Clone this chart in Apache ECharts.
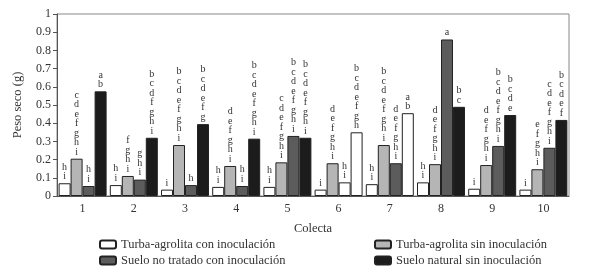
<!DOCTYPE html>
<html>
<head>
<meta charset="utf-8">
<script src="https://cdn.jsdelivr.net/npm/echarts@6/dist/echarts.min.js"></script>
<style>
  html, body { margin: 0; padding: 0; background: #fff; }
  #chart { width: 589px; height: 271px; }
</style>
</head>
<body>
<div id="chart"></div>
<script>
// colectas
const categories = ['1', '2', '3', '4', '5', '6', '7', '8', '9', '10']

// peso seco (g) por tratamiento
const turbaCon = [0.07, 0.06, 0.035, 0.05, 0.05, 0.035, 0.065, 0.075, 0.04, 0.035]
const turbaSin = [0.205, 0.11, 0.28, 0.165, 0.185, 0.18, 0.28, 0.175, 0.17, 0.147]
const sueloNoTratado = [0.055, 0.09, 0.06, 0.055, 0.33, 0.075, 0.18, 0.86, 0.275, 0.265]
const sueloNatural = [0.575, 0.32, 0.395, 0.315, 0.32, 0.35, 0.455, 0.49, 0.445, 0.418]

// letras de significancia
const letrasTurbaCon = ['hi', 'hi', 'i', 'hi', 'hi', 'i', 'hi', 'hi', 'i', 'i']
const letrasTurbaSin = ['cdefghi', 'fghi', 'bcdefghi', 'defghi', 'cdefghi', 'defghi', 'bcdefghi', 'defghi', 'defghi', 'efghi']
const letrasNoTratado = ['hi', 'ghi', 'h', 'hi', 'bcdefghi', 'hi', 'defghi', 'a', 'bcdefghi', 'cdefghi']
const letrasNatural = ['ab', 'bcdfghi', 'bcdefg', 'bcdefghi', 'bcdefghi', 'bcdefgh', 'ab', 'bc', 'bcde', 'bcdef']

// barras que en la figura original aparecen sin relleno: [colecta, serie]
const barrasBlancas = [[5, 2], [5, 3], [6, 3]]

const seriesNames = [
  'Turba-agrolita con inoculación',
  'Turba-agrolita sin inoculación',
  'Suelo no tratado con inoculación',
  'Suelo natural sin inoculación'
]
const fills = ['#ffffff', '#b5b5b5', '#5c5c5c', '#1c1c1c']
const values = [turbaCon, turbaSin, sueloNoTratado, sueloNatural]
const letters = [letrasTurbaCon, letrasTurbaSin, letrasNoTratado, letrasNatural]

const font = 'Liberation Serif'

const chart = echarts.init(document.getElementById('chart'))

const series = values.map((vals, s) => ({
  name: seriesNames[s],
  type: 'bar',
  barWidth: 12,
  barGap: '0%',
  itemStyle: { color: fills[s], borderColor: '#222', borderWidth: 1 },
  label: {
    show: true,
    position: 'top',
    distance: 2,
    fontFamily: font,
    fontSize: 10,
    lineHeight: 9.5,
    color: '#333',
    formatter: (p) => letters[s][p.dataIndex].split('').join('\n')
  },
  data: vals.map((v, i) => {
    const hollow = barrasBlancas.some(b => b[0] === i && b[1] === s)
    return hollow ? { value: v, itemStyle: { color: '#ffffff' } } : v
  })
}))

// una leyenda por tratamiento, en dos columnas
const legendPos = [[94, 233], [369, 233], [94, 249], [369, 249]]
const legends = seriesNames.map((name, i) => ({
  data: [name],
  left: legendPos[i][0],
  top: legendPos[i][1],
  itemWidth: 16,
  itemHeight: 8,
  textStyle: { fontFamily: font, fontSize: 12.5, color: '#333' }
}))

const option = {
  animation: false,
  grid: {
    left: 57,
    right: 20,
    top: 14,
    bottom: 75,
    show: true,
    borderColor: '#888',
    borderWidth: 1
  },
  legend: legends,
  xAxis: {
    type: 'category',
    data: categories,
    name: 'Colecta',
    nameLocation: 'middle',
    nameGap: 26,
    nameTextStyle: { fontFamily: font, fontSize: 12.5, color: '#333' },
    axisLine: { lineStyle: { color: '#555' } },
    axisTick: { show: false },
    axisLabel: { fontFamily: font, fontSize: 12, color: '#333', margin: 7 }
  },
  yAxis: {
    type: 'value',
    min: 0,
    max: 1,
    interval: 0.1,
    name: 'Peso seco (g)',
    nameLocation: 'middle',
    nameGap: 33,
    nameTextStyle: { fontFamily: font, fontSize: 12.5, color: '#333' },
    axisLine: { show: true, lineStyle: { color: '#555' } },
    axisTick: { show: true, length: 4, lineStyle: { color: '#555' } },
    axisLabel: { fontFamily: font, fontSize: 12, color: '#333', margin: 6 },
    splitLine: { show: false }
  },
  series: series
}

chart.setOption(option)
</script>
</body>
</html>
